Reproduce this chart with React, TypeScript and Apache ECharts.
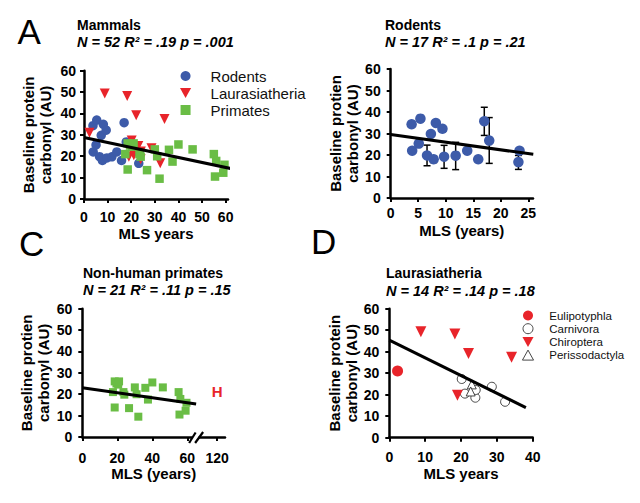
import React, { useEffect, useRef } from 'react';
import * as echarts from 'echarts';

// ---------------- data ----------------
// Rodents (panels A and B)
const rodentMLS = [3.8, 5.4, 3.9, 5.1, 7.3, 8.2, 9.4, 6.6, 7.8, 9.7, 11.8, 13.9, 15.9, 17.0, 17.9, 23.4, 23.2];
const rodentCarbonyl = [34.3, 36.9, 22.0, 25.3, 29.8, 34.9, 32.2, 19.8, 18.0, 19.2, 19.7, 22.0, 18.0, 35.7, 26.7, 22.0, 16.7];
const rodentErrLow = [null, null, null, null, null, null, null, 15.0, 16.5, 13.8, 13.2, null, null, 29.1, 16.1, null, 13.3];
const rodentErrHigh = [null, null, null, null, null, null, null, 24.6, 19.5, 24.5, 25.9, null, null, 42.2, 37.4, null, 19.8];

// Non-human primates (panels A and C)
const primateMLS = [17.5, 18.5, 19.5, 20.5, 21.0, 24.0, 30.0, 31.0, 36.0, 40.0, 46.0, 37.5, 18.5, 26.7, 32.0, 55.0, 56.0, 59.5, 55.5, 59.0, 23.5];
const primateCarbonyl = [21.0, 26.0, 25.0, 24.5, 26.0, 19.8, 23.2, 20.0, 23.0, 25.5, 23.2, 17.5, 13.8, 13.5, 9.5, 21.0, 17.8, 16.0, 10.5, 12.3, 21.0];

// Human (panel C, broken axis)
const humanMLS = 120;
const humanCarbonyl = 21.2;

// Laurasiatheria (panels A and D)
const eulipotyphlaMLS = [2.3];
const eulipotyphlaCarbonyl = [31.0];
const chiropteraMLS = [8.8, 18.3, 22.1, 34.1, 19.0];
const chiropteraCarbonyl = [49.3, 48.2, 39.2, 37.4, 19.8];
const carnivoraMLS = [20.2, 21.1, 24.0, 24.1, 28.6, 32.3];
const carnivoraCarbonyl = [27.3, 20.5, 18.6, 22.2, 23.7, 16.7];
const perissodactylaMLS = [23.0, 22.7];
const perissodactylaCarbonyl = [24.8, 21.5];

// Regression lines (endpoints)
const regMammalsMLS = [0, 63.7];
const regMammalsCarbonyl = [28.8, 13.9];
const regRodentsMLS = [0, 25.9];
const regRodentsCarbonyl = [29.5, 20.3];
const regPrimatesMLS = [0, 65];
const regPrimatesCarbonyl = [23.0, 15.4];
const regLaurMLS = [0, 38.1];
const regLaurCarbonyl = [45.4, 14.0];

// Tick values / labels
const mammalXTicks = [0, 10, 20, 30, 40, 50, 60];
const rodentXTicks = [0, 5, 10, 15, 20, 25];
const primateXTickValues = [0, 20, 40, 60, 120];
const primateXTickLabels = ['0', '20', '40', '60', '120'];
const laurXTicks = [0, 10, 20, 30, 40];

// Broken x axis of panel C: 120 is drawn just after the break
const BREAK_AT = 65;
const brokenX = (v: number) => (v > 100 ? 77 + (v - 120) * 0.5 : v);
const primateXTickDisplay = primateXTickValues.map(brokenX);

// ---------------- styling ----------------
const FONT = '"Liberation Sans", Arial, Helvetica, sans-serif';
const BLUE = '#3D5BA9';
const RED = '#E8242A';
const GREEN = '#6ABD45';
const DOWN_TRI = 'path://M0,0L10,0L5,9Z';
const UP_TRI = 'path://M5,0L10,9L0,9Z';
const SQUARE = 'path://M0,0L10,0L10,10L0,10Z';

const pairs = (xs: number[], ys: number[]) => xs.map((x, i) => [x, ys[i]]);

function xAxis(gridIndex: number, max: number, ticks: number[], name: string, nameGap: number, margin: number, formatter?: any) {
  return {
    type: 'value', gridIndex, min: 0, max,
    axisLine: { show: true, onZero: false, lineStyle: { color: '#000', width: 2.5 } },
    axisTick: { show: true, length: 4, customValues: ticks, lineStyle: { color: '#000', width: 2 } },
    axisLabel: { customValues: ticks, margin, color: '#000', fontSize: 14, fontWeight: 'bold', fontFamily: FONT, formatter },
    splitLine: { show: false },
    name, nameLocation: 'middle', nameGap,
    nameTextStyle: { color: '#000', fontSize: 15, fontWeight: 'bold', fontFamily: FONT },
  };
}

function yAxis(gridIndex: number, name: string, nameGap: number, margin: number) {
  return {
    type: 'value', gridIndex, min: 0, max: 60, interval: 10,
    axisLine: { show: true, onZero: false, lineStyle: { color: '#000', width: 2.5 } },
    axisTick: { show: true, length: 4, lineStyle: { color: '#000', width: 2 } },
    axisLabel: { margin, color: '#000', fontSize: 14, fontWeight: 'bold', fontFamily: FONT },
    splitLine: { show: false },
    name, nameLocation: 'middle', nameGap,
    nameTextStyle: { color: '#000', fontSize: 15, fontWeight: 'bold', fontFamily: FONT, lineHeight: 17 },
  };
}

function regLine(idx: number, xs: number[], ys: number[]) {
  return {
    type: 'line', xAxisIndex: idx, yAxisIndex: idx, data: pairs(xs, ys),
    showSymbol: false, symbol: 'none', clip: false, z: 5, silent: true,
    lineStyle: { color: '#000', width: 3 },
  };
}

function text(id: string, x: number, y: number, t: string, size: number, weight = 'bold', style = 'normal', fill = '#000', align = 'left') {
  return {
    id, type: 'text', x, y,
    style: { text: t, fill, fontSize: size, fontWeight: weight, fontStyle: style, fontFamily: FONT, textAlign: align, textVerticalAlign: 'middle' },
  };
}

const laurAll = [
  ...pairs(eulipotyphlaMLS, eulipotyphlaCarbonyl),
  ...pairs(chiropteraMLS, chiropteraCarbonyl),
  ...pairs(carnivoraMLS, carnivoraCarbonyl),
  ...pairs(perissodactylaMLS, perissodactylaCarbonyl),
];

const errData = rodentMLS
  .map((x, i) => (rodentErrLow[i] == null ? null : [x, rodentErrLow[i], rodentErrHigh[i]]))
  .filter((d) => d != null);

const option: any = {
  animation: false,
  backgroundColor: '#fff',
  textStyle: { fontFamily: FONT },
  grid: [
    { left: 84, top: 70.7, width: 144, height: 128.3 },
    { left: 390.7, top: 69, width: 142.3, height: 129 },
    { left: 82.3, top: 308.7, width: 142.7, height: 128.3 },
    { left: 389.3, top: 308.7, width: 143.4, height: 129 },
  ],
  xAxis: [
    xAxis(0, 61, mammalXTicks, 'MLS years', 26.5, 11),
    xAxis(1, 25.85, rodentXTicks, 'MLS (years)', 24.5, 8),
    xAxis(2, 81.5, primateXTickDisplay, 'MLS (years)', 28.5, 14, (v: number) => primateXTickLabels[primateXTickDisplay.indexOf(v)] ?? ''),
    xAxis(3, 40, laurXTicks, 'MLS years', 28, 12.5),
  ],
  yAxis: [
    yAxis(0, 'Baseline protein\ncarbonyl (AU)', 30.5, 8),
    yAxis(1, 'Baseline protien\ncarbonyl (AU)', 29, 10),
    yAxis(2, 'Baseline protien\ncarbonyl (AU)', 30.8, 10),
    yAxis(3, 'Baseline protein\ncarbonyl (AU)', 28.8, 10),
  ],
  legend: [
    {
      data: ['Rodents', 'Laurasiatheria', 'Primates'],
      orient: 'vertical', left: 175, top: 63.5, itemWidth: 40, itemHeight: 10, itemGap: 2,
      symbolKeepAspect: true,
      selectedMode: false, textStyle: { fontSize: 15, color: '#111', fontFamily: FONT },
    },
    {
      data: ['Eulipotyphla', 'Carnivora', 'Chiroptera', 'Perissodactyla'],
      orient: 'vertical', left: 517, top: 304.5, itemWidth: 32.6, itemHeight: 10, itemGap: 1.2,
      symbolKeepAspect: true, itemStyle: { borderWidth: 0.9 },
      selectedMode: false, textStyle: { fontSize: 11.5, color: '#111', fontFamily: FONT },
    },
  ],
  series: [
    // Panel A
    { name: 'Rodents', type: 'scatter', xAxisIndex: 0, yAxisIndex: 0, data: pairs(rodentMLS, rodentCarbonyl), symbol: 'circle', symbolSize: 9.5, itemStyle: { color: BLUE, opacity: 1 } },
    { name: 'Laurasiatheria', type: 'scatter', xAxisIndex: 0, yAxisIndex: 0, data: laurAll, symbol: DOWN_TRI, symbolSize: 10, itemStyle: { color: RED, opacity: 1 } },
    { name: 'Primates', type: 'scatter', xAxisIndex: 0, yAxisIndex: 0, data: pairs(primateMLS, primateCarbonyl), symbol: SQUARE, symbolSize: 8.5, itemStyle: { color: GREEN, opacity: 1 } },
    regLine(0, regMammalsMLS, regMammalsCarbonyl),
    // Panel B
    {
      name: 'Rodent SEM', type: 'custom', xAxisIndex: 1, yAxisIndex: 1, data: errData, z: 1, silent: true,
      encode: { x: 0, y: [1, 2] },
      renderItem: (_p: any, api: any) => {
        const x = api.value(0);
        const lo = api.coord([x, api.value(1)]);
        const hi = api.coord([x, api.value(2)]);
        const w = 3.5;
        const st = { stroke: '#000', lineWidth: 1.5 };
        return {
          type: 'group',
          children: [
            { type: 'line', shape: { x1: lo[0], y1: lo[1], x2: hi[0], y2: hi[1] }, style: st },
            { type: 'line', shape: { x1: lo[0] - w, y1: lo[1], x2: lo[0] + w, y2: lo[1] }, style: st },
            { type: 'line', shape: { x1: hi[0] - w, y1: hi[1], x2: hi[0] + w, y2: hi[1] }, style: st },
          ],
        };
      },
    },
    { name: 'Rodents', type: 'scatter', xAxisIndex: 1, yAxisIndex: 1, data: pairs(rodentMLS, rodentCarbonyl), symbol: 'circle', symbolSize: 10.5, z: 3, itemStyle: { color: BLUE, opacity: 1 } },
    regLine(1, regRodentsMLS, regRodentsCarbonyl),
    // Panel C
    { name: 'Non-human primates', type: 'scatter', xAxisIndex: 2, yAxisIndex: 2, data: pairs(primateMLS, primateCarbonyl), symbol: SQUARE, symbolSize: 8, itemStyle: { color: GREEN, opacity: 1 } },
    {
      name: 'Human', type: 'scatter', xAxisIndex: 2, yAxisIndex: 2, data: [[brokenX(humanMLS), humanCarbonyl]],
      symbol: 'circle', symbolSize: 1, itemStyle: { color: 'rgba(0,0,0,0)' },
      label: { show: true, formatter: 'H', position: 'inside', color: RED, fontSize: 15, fontWeight: 'bold', fontFamily: FONT, opacity: 1 },
    },
    regLine(2, regPrimatesMLS, regPrimatesCarbonyl),
    // Panel D
    { name: 'Eulipotyphla', type: 'scatter', xAxisIndex: 3, yAxisIndex: 3, data: pairs(eulipotyphlaMLS, eulipotyphlaCarbonyl), symbol: 'circle', symbolSize: 11, itemStyle: { color: RED, opacity: 1 } },
    { name: 'Carnivora', type: 'scatter', xAxisIndex: 3, yAxisIndex: 3, data: pairs(carnivoraMLS, carnivoraCarbonyl), symbol: 'circle', symbolSize: 9, itemStyle: { color: '#fff', borderColor: '#333', borderWidth: 0.9, opacity: 1 } },
    { name: 'Chiroptera', type: 'scatter', xAxisIndex: 3, yAxisIndex: 3, data: pairs(chiropteraMLS, chiropteraCarbonyl), symbol: DOWN_TRI, symbolSize: 11, itemStyle: { color: RED, opacity: 1 } },
    { name: 'Perissodactyla', type: 'scatter', xAxisIndex: 3, yAxisIndex: 3, data: pairs(perissodactylaMLS, perissodactylaCarbonyl), symbol: UP_TRI, symbolSize: 9, itemStyle: { color: '#fff', borderColor: '#333', borderWidth: 0.9, opacity: 1 } },
    regLine(3, regLaurMLS, regLaurCarbonyl),
  ],
  graphic: [
    text('lblA', 17.5, 31, 'A', 35, 'normal'),
    text('lblC', 19, 243.5, 'C', 35, 'normal'),
    text('lblD', 311, 241.5, 'D', 35, 'normal'),
    text('tA', 77, 25.3, 'Mammals', 14),
    text('sA', 77, 41.6, 'N = 52 R² = .19 p = .001', 14.5, 'bold', 'italic'),
    text('tB', 385, 25.3, 'Rodents', 14),
    text('sB', 385, 41.6, 'N = 17 R² = .1 p = .21', 14.5, 'bold', 'italic'),
    text('tC', 83, 272.7, 'Non-human primates', 14),
    text('sC', 83, 289.8, 'N = 21 R² = .11 p = .15', 14.5, 'bold', 'italic'),
    text('tD', 386, 273, 'Laurasiatheria', 14),
    text('sD', 386, 290.5, 'N = 14 R² = .14 p = .18', 14.5, 'bold', 'italic'),
  ],
};

export default function App() {
  const ref = useRef<HTMLDivElement>(null);
  useEffect(() => {
    if (!ref.current) return;
    const chart = echarts.init(ref.current, null, { renderer: 'svg' });
    chart.setOption(option);
    const p = chart.convertToPixel({ gridIndex: 2 } as any, [BREAK_AT, 0]) as number[];
    if (p && p.length === 2) {
      const [bx, by] = p;
      const st = { stroke: '#000', lineWidth: 2.2 };
      chart.setOption({
        graphic: [
          { id: 'brkGap', type: 'rect', shape: { x: bx - 3.5, y: by - 2, width: 6, height: 4 }, style: { fill: '#fff' }, z: 10 },
          { id: 'brk1', type: 'line', shape: { x1: bx - 7, y1: by + 6, x2: bx - 0.5, y2: by - 4.5 }, style: st, z: 11 },
          { id: 'brk2', type: 'line', shape: { x1: bx - 1, y1: by + 6, x2: bx + 7, y2: by - 5 }, style: st, z: 11 },
        ],
      });
    }
    return () => chart.dispose();
  }, []);
  return (
    <div
      ref={ref}
      style={{ position: 'absolute', left: 0, top: 0, width: 640, height: 503, background: '#fff' }}
    />
  );
}
